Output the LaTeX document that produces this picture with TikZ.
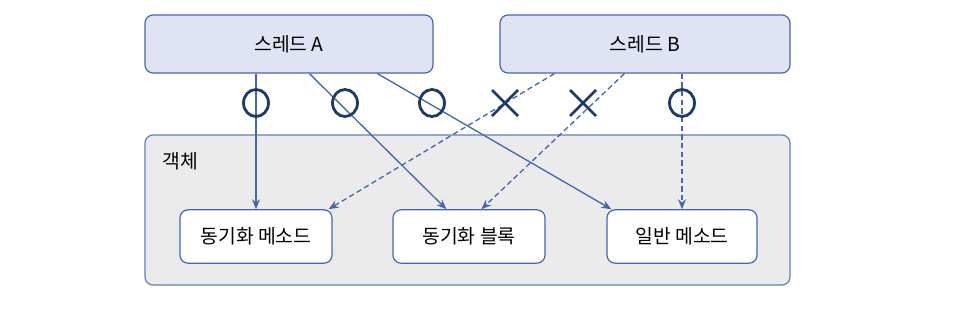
\documentclass[tikz,border=0pt]{standalone}
\usepackage{fontspec}
\setmainfont{Noto Sans CJK KR}
\usetikzlibrary{arrows.meta,calc}
\definecolor{lineblue}{HTML}{4468B0}
\definecolor{markblue}{HTML}{1F3A68}
\definecolor{threadfill}{HTML}{DFE3F3}
\definecolor{objfill}{HTML}{EBEBEB}

\begin{document}
\begin{tikzpicture}[x=0.75pt,y=-0.75pt,
  every node/.style={font=\fontsize{14.5}{17}\selectfont},
  thread/.style={draw=lineblue,line width=0.9pt,fill=threadfill,rounded corners=6pt,minimum width=216pt,minimum height=43.5pt},
  method/.style={draw=lineblue,line width=0.9pt,fill=white,rounded corners=6pt,minimum width=114pt,minimum height=40pt},
  arr/.style={lineblue,line width=1pt,-{Stealth[length=7.5pt,width=6pt]}},
  darr/.style={arr,dashed,dash pattern=on 4pt off 2.5pt},
  okmark/.style={markblue,line width=2.1pt}]
\useasboundingbox (0,0) rectangle (968,308);

% Object
\node[draw=lineblue!85,line width=0.9pt,fill=objfill,rounded corners=6pt,minimum width=483.75pt,minimum height=112.5pt] (obj) at (467.5,210) {};
\node (objlabel) at (180,161) {객체};

% Threads
\node[thread] (threadA) at (289,44) {스레드 A};
\node[thread,minimum width=217.5pt] (threadB) at (645,44) {스레드 B};

% Methods
\node[method] (syncM) at (256,236.5) {동기화 메소드};
\node[method] (syncB) at (469,236.5) {동기화 블록};
\node[method,minimum width=112.5pt] (plainM) at (682,236.5) {일반 메소드};

% Thread A
\draw[arr] (threadA.south -| syncM.north) -- (syncM.north);
\draw[arr] ($(threadA.south west)+(165,0)$) -- ($(syncB.north west)+(54,0)$);
\draw[arr] ($(threadA.south west)+(233,0)$) -- ($(plainM.north west)+(5,0)$);

% Thread B
\draw[darr] ($(threadB.south west)+(55,0)$) -- ($(syncM.north east)+(-4,0)$);
\draw[darr] ($(threadB.south west)+(125,0)$) -- ($(syncB.north west)+(89,0)$);
\draw[darr] (threadB.south -| plainM.north) -- (plainM.north);

% O / X marks
\foreach \x in {256,345,432,682}
  \draw[okmark] (\x,103) ellipse (12.5 and 13.5);
\foreach \x in {505,583}
  \draw[okmark] (\x-13,90) -- (\x+13,116) (\x-13,116) -- (\x+13,90);
\end{tikzpicture}
\end{document}
